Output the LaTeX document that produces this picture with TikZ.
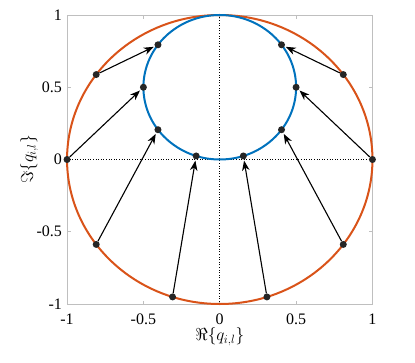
\documentclass[tikz,border=0pt]{standalone}
\usepackage{fontspec}
\setmainfont{Liberation Serif}
\usetikzlibrary{arrows.meta}
\definecolor{mred}{RGB}{217,83,25}
\definecolor{mblue}{RGB}{0,114,189}
\begin{document}
\begin{tikzpicture}[x=152.7pt,y=144.5pt,
  dot/.style={circle,fill=black!85,inner sep=0pt,minimum size=7pt},
  arr/.style={-{Stealth[length=10pt,width=7.5pt,inset=3pt]},line width=1.1pt,shorten >=1pt},
  ticklab/.style={font=\fontsize{16}{18}\selectfont,inner sep=0pt},
  axlab/.style={font=\fontsize{16.5}{18}\selectfont,inner sep=0pt}]
\useasboundingbox (-219.75pt,-202.5pt) rectangle (195.25pt,159.5pt);
% axes box and ticks
\draw[gray!50,line width=0.8pt] (-1,-1) rectangle (1,1);
\foreach \t in {-0.5,0,0.5} {
  \draw[gray!50,line width=0.7pt] (\t,-1) -- ++(0,3.5pt);
  \draw[gray!50,line width=0.7pt] (\t,1) -- ++(0,-3.5pt);
  \draw[gray!50,line width=0.7pt] (-1,\t) -- ++(3.5pt,0);
  \draw[gray!50,line width=0.7pt] (1,\t) -- ++(-3.5pt,0);
}
\foreach \t/\l in {-1/-1,-0.5/-0.5,0/0,0.5/0.5,1/1} {
  \node[ticklab] (xt\l) at ([yshift=-15.5pt]\t,-1) {\l};
  \node[ticklab,anchor=east] (yt\l) at ([xshift=-5pt]-1,\t) {\l};
}
\node[axlab] (xl) at ([yshift=-32.5pt]0,-1) {$\Re{\left\{q_{i,l}\right\}}$};
\node[axlab,rotate=90] (yl) at ([xshift=-38pt]-1,0) {$\Im{\left\{q_{i,l}\right\}}$};
% dotted axes
\draw[dotted,line width=0.6pt] (-1,0) -- (1,0);
\draw[dotted,line width=0.6pt] (0,-1) -- (0,1);
% circles
\draw[mred,line width=2pt] (0,0) circle [x radius=1,y radius=1];
\draw[mblue,line width=2pt] (0,0.5) circle [x radius=0.5,y radius=0.5];
% points
\foreach \a [count=\i] in {0,36,144,180,216,252,288,324} {
  \node[dot] (z\i) at ({cos(\a)},{sin(\a)}) {};
  \node[dot] (q\i) at ({cos(\a)/2},{(sin(\a)+1)/2}) {};
}
\foreach \i in {1,...,8} {
  \draw[arr] (z\i) -- (q\i);
}
\end{tikzpicture}
\end{document}
